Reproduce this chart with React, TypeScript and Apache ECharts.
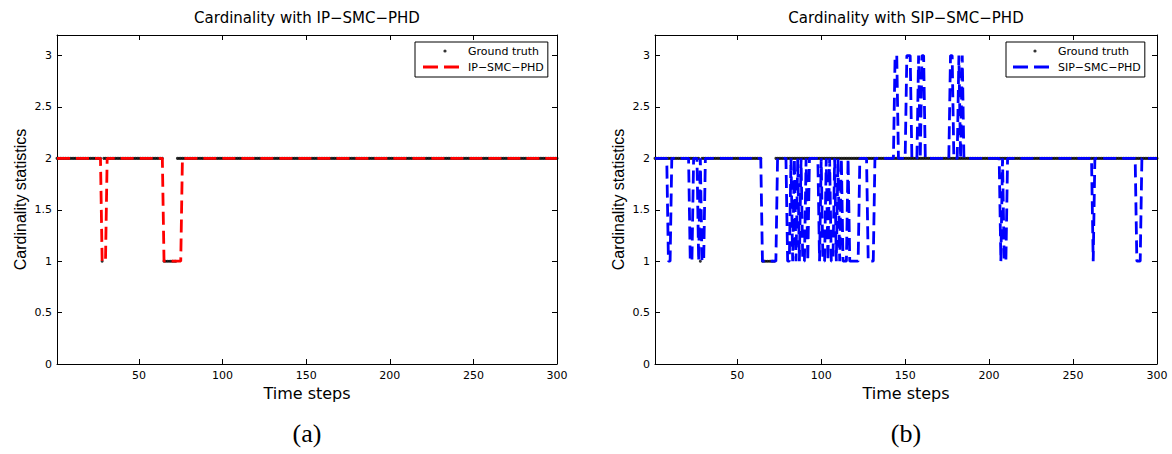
import React, { useEffect, useRef } from 'react';
import * as echarts from 'echarts';

// ---- data ----
const timeSteps: number[] = Array.from({ length: 300 }, (_, i) => i + 1);

const groundTruth: number[] = [
  2,2,2,2,2,2,2,2,2,2,2,2,2,2,2,2,2,2,2,2,
  2,2,2,2,2,2,2,1,2,2,2,2,2,2,2,2,2,2,2,2,
  2,2,2,2,2,2,2,2,2,2,2,2,2,2,2,2,2,2,2,2,
  2,2,2,2,1,1,1,1,1,1,1,1,2,2,2,2,2,2,2,2,
  2,2,2,2,2,2,2,2,2,2,2,2,2,2,2,2,2,2,2,2,
  2,2,2,2,2,2,2,2,2,2,2,2,2,2,2,2,2,2,2,2,
  2,2,2,2,2,2,2,2,2,2,2,2,2,2,2,2,2,2,2,2,
  2,2,2,2,2,2,2,2,2,2,2,2,2,2,2,2,2,2,2,2,
  2,2,2,2,2,2,2,2,2,2,2,2,2,2,2,2,2,2,2,2,
  2,2,2,2,2,2,2,2,2,2,2,2,2,2,2,2,2,2,2,2,
  2,2,2,2,2,2,2,2,2,2,2,2,2,2,2,2,2,2,2,2,
  2,2,2,2,2,2,2,2,2,2,2,2,2,2,2,2,2,2,2,2,
  2,2,2,2,2,2,2,2,2,2,2,2,2,2,2,2,2,2,2,2,
  2,2,2,2,2,2,2,2,2,2,2,2,2,2,2,2,2,2,2,2,
  2,2,2,2,2,2,2,2,2,2,2,2,2,2,2,2,2,2,2,2,
];

const ipSmcPhd: number[] = [
  2,2,2,2,2,2,2,2,2,2,2,2,2,2,2,2,2,2,2,2,
  2,2,2,2,2,2,2,1,1,1,2,2,2,2,2,2,2,2,2,2,
  2,2,2,2,2,2,2,2,2,2,2,2,2,2,2,2,2,2,2,2,
  2,2,2,2,1,1,1,1,1,1,1,1,1,1,1,2,2,2,2,2,
  2,2,2,2,2,2,2,2,2,2,2,2,2,2,2,2,2,2,2,2,
  2,2,2,2,2,2,2,2,2,2,2,2,2,2,2,2,2,2,2,2,
  2,2,2,2,2,2,2,2,2,2,2,2,2,2,2,2,2,2,2,2,
  2,2,2,2,2,2,2,2,2,2,2,2,2,2,2,2,2,2,2,2,
  2,2,2,2,2,2,2,2,2,2,2,2,2,2,2,2,2,2,2,2,
  2,2,2,2,2,2,2,2,2,2,2,2,2,2,2,2,2,2,2,2,
  2,2,2,2,2,2,2,2,2,2,2,2,2,2,2,2,2,2,2,2,
  2,2,2,2,2,2,2,2,2,2,2,2,2,2,2,2,2,2,2,2,
  2,2,2,2,2,2,2,2,2,2,2,2,2,2,2,2,2,2,2,2,
  2,2,2,2,2,2,2,2,2,2,2,2,2,2,2,2,2,2,2,2,
  2,2,2,2,2,2,2,2,2,2,2,2,2,2,2,2,2,2,2,2,
];

const sipSmcPhd: number[] = [
  2,2,2,2,2,2,2,2,1,1,2,2,2,2,2,2,2,2,2,2,
  2,1,1,2,2,2,1,2,1,1,2,2,2,2,2,2,2,2,2,2,
  2,2,2,2,2,2,2,2,2,2,2,2,2,2,2,2,2,2,2,2,
  2,2,2,2,1,1,1,1,1,1,1,1,1,2,2,2,2,2,2,1,
  1,2,1,2,1,2,1,2,1,1,2,1,2,2,2,2,2,2,1,2,
  1,1,2,1,2,1,1,2,1,2,1,2,1,1,1,2,1,1,1,1,
  1,1,2,2,2,2,2,1,1,1,1,2,2,2,2,2,2,2,2,2,
  2,2,2,3,3,2,2,2,2,2,3,3,3,2,2,2,2,3,2,3,
  3,2,2,2,2,2,2,2,2,2,2,2,2,2,2,2,3,3,2,2,
  2,3,2,3,2,2,2,2,2,2,2,2,2,2,2,2,2,2,2,2,
  2,2,2,2,2,2,1,2,1,1,2,2,2,2,2,2,2,2,2,2,
  2,2,2,2,2,2,2,2,2,2,2,2,2,2,2,2,2,2,2,2,
  2,2,2,2,2,2,2,2,2,2,2,2,2,2,2,2,2,2,2,2,
  2,1,2,2,2,2,2,2,2,2,2,2,2,2,2,2,2,2,2,2,
  2,2,2,2,2,2,2,1,1,1,2,2,2,2,2,2,2,2,2,2,
];

const xTickValues = [50, 100, 150, 200, 250, 300];
const yTickValues = [0, 0.5, 1, 1.5, 2, 2.5, 3];
const panelTitles = ['Cardinality with IP\u2212SMC\u2212PHD', 'Cardinality with SIP\u2212SMC\u2212PHD'];
const panelLabels = ['(a)', '(b)'];
const truthName = 'Ground truth';
const estimateNames = ['IP\u2212SMC\u2212PHD', 'SIP\u2212SMC\u2212PHD'];
const estimateColors = ['#ff0000', '#0000ff'];
const xName = 'Time steps';
const yName = 'Cardinality statistics';

const SANS = '"DejaVu Sans", sans-serif';
const ARIAL = '"Liberation Sans", Arial, sans-serif';
const SERIF = '"Liberation Serif", "Times New Roman", serif';

const dotIcon = 'path://M0,0M40,14M20.4,7A1.6,1.6 0 1,0 23.6,7A1.6,1.6 0 1,0 20.4,7Z';
const dashIcon = 'path://M0,0M40,14M0,5.6L15,5.6L15,8.4L0,8.4ZM21,5.6L36,5.6L36,8.4L21,8.4Z';

const panels = [
  { left: 57, width: 500, legendLeft: 415, legendPadLeft: 8 },
  { left: 655, width: 502, legendLeft: 1006, legendPadLeft: 7 },
];
const TOP = 35;
const HEIGHT = 329;

function buildOption() {
  const grid: any[] = [];
  const xAxis: any[] = [];
  const yAxis: any[] = [];
  const series: any[] = [];
  const title: any[] = [];
  const legend: any[] = [];
  const lineCommon = { onZero: false, lineStyle: { color: '#000', width: 1 } };
  const tickCommon = { inside: true, length: 5, lineStyle: { color: '#000', width: 1 } };

  panels.forEach((p, gi) => {
    const cx = p.left + p.width / 2;
    grid.push({ left: p.left, top: TOP, width: p.width, height: HEIGHT, containLabel: false });
    xAxis.push({
      gridIndex: gi, type: 'value', min: 1, max: 300, position: 'bottom',
      name: xName, nameLocation: 'middle', nameGap: 21,
      nameTextStyle: { fontFamily: SANS, fontSize: 16, color: '#000' },
      axisLine: lineCommon,
      axisTick: { ...tickCommon, customValues: xTickValues },
      axisLabel: { customValues: xTickValues, fontFamily: SANS, fontSize: 11, color: '#000', margin: 6 },
      splitLine: { show: false },
    });
    xAxis.push({
      gridIndex: gi, type: 'value', min: 1, max: 300, position: 'top',
      axisLine: lineCommon,
      axisTick: { ...tickCommon, customValues: xTickValues },
      axisLabel: { show: false },
      splitLine: { show: false },
    });
    yAxis.push({
      gridIndex: gi, type: 'value', min: 0, max: 3.2, position: 'left',
      name: yName, nameLocation: 'middle', nameGap: 29,
      nameTextStyle: { fontFamily: ARIAL, fontSize: 16, color: '#000' },
      axisLine: lineCommon,
      axisTick: { ...tickCommon, customValues: yTickValues },
      axisLabel: { customValues: yTickValues, fontFamily: SANS, fontSize: 11, color: '#000', margin: 5 },
      splitLine: { show: false },
    });
    yAxis.push({
      gridIndex: gi, type: 'value', min: 0, max: 3.2, position: 'right',
      axisLine: lineCommon,
      axisTick: { ...tickCommon, customValues: yTickValues },
      axisLabel: { show: false },
      splitLine: { show: false },
    });
    series.push({
      name: truthName, type: 'scatter', xAxisIndex: gi * 2, yAxisIndex: gi * 2,
      symbol: 'circle', symbolSize: 3, silent: true, z: 2,
      itemStyle: { color: '#000' },
      data: timeSteps.map((t, i) => [t, groundTruth[i]]),
    });
    series.push({
      name: estimateNames[gi], type: 'line', xAxisIndex: gi * 2, yAxisIndex: gi * 2,
      symbol: 'none', showSymbol: false, silent: true, z: 3,
      color: estimateColors[gi],
      lineStyle: { color: estimateColors[gi], width: 2.8, type: [13, 6] },
      data: timeSteps.map((t, i) => [t, gi === 0 ? ipSmcPhd[i] : sipSmcPhd[i]]),
    });
    title.push({
      text: panelTitles[gi], left: cx, top: 10, textAlign: 'center', padding: 0,
      textStyle: { fontFamily: SANS, fontSize: 15, fontWeight: 'normal', color: '#000' },
    });
    title.push({
      text: panelLabels[gi], left: cx, top: 420, textAlign: 'center', padding: 0,
      textStyle: { fontFamily: SERIF, fontSize: 26, fontWeight: 'normal', color: '#000' },
    });
    legend.push({
      orient: 'vertical', left: p.legendLeft, top: 42,
      padding: [2, 4, 3, p.legendPadLeft], itemGap: 2, itemWidth: 40, itemHeight: 14,
      borderColor: '#000', borderWidth: 1, borderRadius: 0, backgroundColor: '#fff',
      selectedMode: false,
      textStyle: { fontFamily: SANS, fontSize: 11, color: '#000' },
      data: [
        { name: truthName, icon: dotIcon, itemStyle: { color: '#000', borderWidth: 0 } },
        { name: estimateNames[gi], icon: dashIcon, itemStyle: { color: estimateColors[gi], borderWidth: 0 } },
      ],
    });
  });

  return {
    animation: false,
    backgroundColor: '#fff',
    title, legend, grid, xAxis, yAxis, series,
  };
}

export default function App() {
  const ref = useRef<HTMLDivElement>(null);
  useEffect(() => {
    if (!ref.current) return;
    const chart = echarts.init(ref.current, null, { renderer: 'svg' });
    chart.setOption(buildOption() as any);
    return () => chart.dispose();
  }, []);
  return (
    <div
      ref={ref}
      style={{ position: 'absolute', left: 0, top: 0, width: 1172, height: 454, background: '#fff' }}
    />
  );
}
